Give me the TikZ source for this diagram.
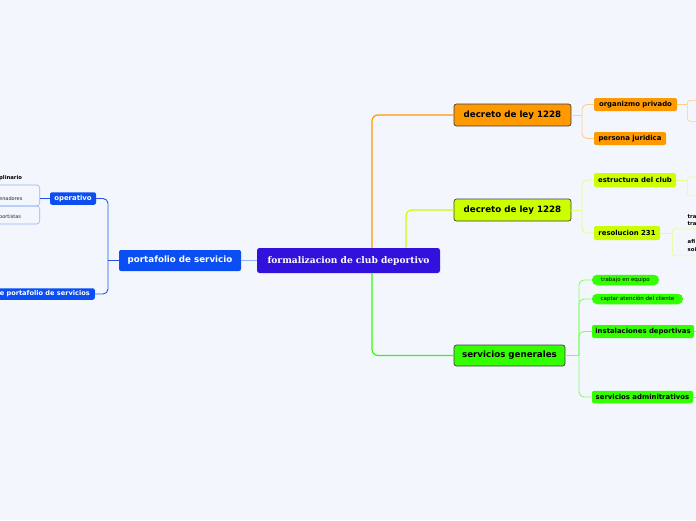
\documentclass[tikz,border=0pt]{standalone}
\usepackage{fontspec}
\setmainfont{DejaVu Sans}
\newfontfamily\serifb{DejaVu Serif}
\definecolor{bg}{RGB}{243,246,253}
\definecolor{cent}{RGB}{51,17,221}
\definecolor{bluebox}{RGB}{11,78,242}
\definecolor{blueline}{RGB}{34,85,238}
\definecolor{bluelight}{RGB}{150,180,245}
\definecolor{orangebox}{RGB}{255,153,0}
\definecolor{orangelight}{RGB}{255,204,140}
\definecolor{limebox}{RGB}{204,255,0}
\definecolor{limelight}{RGB}{225,255,130}
\definecolor{greenbox}{RGB}{51,255,0}
\definecolor{greenlight}{RGB}{130,255,100}
\begin{document}
\begin{tikzpicture}[x=1pt,y=-1pt,
  mainbox/.style={rectangle, rounded corners=2.5pt, inner sep=0pt, draw=black!75, line width=0.7pt,
    font=\bfseries\fontsize{8.7}{10}\selectfont, text=black},
  childbox/.style={rectangle, rounded corners=2pt, inner sep=0pt,
    font=\bfseries\fontsize{6.9}{8}\selectfont, text=black},
  pillbox/.style={rectangle, rounded corners=5pt, inner sep=0pt, fill=greenbox,
    font=\fontsize{5.5}{6}\selectfont, text=black},
  bluenode/.style={rectangle, rounded corners=2pt, inner sep=0pt, fill=bluebox, text=white},
  obox/.style={rectangle, rounded corners=3pt, inner sep=0pt, draw, line width=0.6pt},
  tiny/.style={inner sep=0pt, font=\fontsize{5}{6}\selectfont, text=black!85},
  conn/.style={line width=1.2pt, rounded corners=6pt},
  subconn/.style={line width=0.9pt, rounded corners=5pt}
]
\useasboundingbox[fill=bg] (0,0) rectangle (696,520);

% central
\node[rectangle, rounded corners=2.5pt, inner sep=0pt, fill=cent, text=white,
  font=\serifb\bfseries\fontsize{9.1}{10}\selectfont, minimum width=183, minimum height=25]
  (c) at (348.5,260.5) {formalizacion de club deportivo};

% left branch
\node[bluenode, font=\bfseries\fontsize{8.7}{10}\selectfont, minimum width=122, minimum height=21]
  (port) at (180,260.5) {portafolio de servicio};
\node[bluenode, font=\bfseries\fontsize{6.9}{8}\selectfont, minimum width=46, minimum height=12.5]
  (op) at (73,198.5) {operativo};
\node[bluenode, font=\bfseries\fontsize{6.6}{8}\selectfont, minimum height=11.5, inner xsep=5pt, anchor=east]
  (mod) at (95,294) {e portafolio de servicios};

\draw[line width=1.2pt, bluelight] (c.west) -- (port.east);
\coordinate (lj) at (108,260.5);
\draw[conn, blueline, line width=0.9pt] (port.west) -- (lj);
\draw[subconn, blueline] (op.east) -| (lj) |- (mod.east);

\node[obox, draw=bluelight, minimum width=60, minimum height=21, anchor=east] (ol1) at (40,195.5) {};
\node[obox, draw=bluelight, minimum width=60, minimum height=18, anchor=east] (ol2) at (40,215) {};
\draw[line width=0.9pt, blueline] (op.west) -- (op.west -| ol1.east);
\node[tiny, anchor=west, font=\bfseries\fontsize{5.3}{6}\selectfont, text=black] (t1) at (-1,178) {plinario};
\node[tiny, anchor=west] (t2) at (-1,198.5) {enadores};
\node[tiny, anchor=west] (t3) at (-1,217) {portistas};

% right main nodes
\node[mainbox, fill=orangebox, minimum width=117, minimum height=22] (do) at (512.5,115) {decreto de ley 1228};
\node[mainbox, fill=limebox, minimum width=117, minimum height=22] (dl) at (512.5,210) {decreto de ley 1228};
\node[mainbox, fill=greenbox, minimum width=111, minimum height=21] (sg) at (509.5,355.5) {servicios generales};

\draw[conn, orangebox] (c.north -| 372,0) |- (do.west);
\draw[conn, limebox] (c.north -| 406,0) |- (dl.west);
\draw[conn, greenbox] (c.south -| 372,0) |- (sg.west);

% orange children
\node[childbox, fill=orangebox, minimum width=83, minimum height=13] (org) at (635.5,104.5) {organizmo privado};
\node[childbox, fill=orangebox, minimum width=72, minimum height=13] (pers) at (630,138.5) {persona juridica};
\coordinate (oj) at (582,115);
\draw[subconn, orangelight] (do.east) -- (oj);
\draw[subconn, orangelight] (org.west) -| (oj) |- (pers.west);
\node[obox, draw=orangelight, minimum width=40, minimum height=21, anchor=north west] (o1) at (687,100) {};
\draw[line width=0.9pt, orangelight] (org.east) -- (org.east -| o1.west);

% lime children
\node[childbox, fill=limebox, minimum width=82, minimum height=14] (est) at (635,180) {estructura del club};
\node[childbox, fill=limebox, minimum width=66, minimum height=14] (res) at (627,233) {resolucion 231};
\coordinate (lj2) at (582,210);
\draw[subconn, limelight] (dl.east) -- (lj2);
\draw[subconn, limelight] (est.west) -| (lj2) |- (res.west);
\node[obox, draw=limelight, minimum width=40, minimum height=19, anchor=north west] (o2) at (687,176.5) {};
\draw[line width=0.9pt, limelight] (est.east) -- (est.east -| o2.west);
\node[obox, draw=limelight, minimum width=50, minimum height=27, anchor=north west] (o3) at (672,228.5) {};
\draw[line width=0.9pt, limelight] (res.east) -- (res.east -| o3.west);
\node[tiny, anchor=west, font=\bfseries\fontsize{5.3}{6}\selectfont, text=black] (r1) at (687.5,216.5) {tra};
\node[tiny, anchor=west, font=\bfseries\fontsize{5.3}{6}\selectfont, text=black] (r2) at (687.5,224) {tra};
\node[tiny, anchor=west, font=\bfseries\fontsize{5.3}{6}\selectfont, text=black] (r3) at (687.5,242) {afi};
\node[tiny, anchor=west, font=\bfseries\fontsize{5.3}{6}\selectfont, text=black] (r4) at (687.5,249.5) {soi};

% green children
\node[pillbox, minimum width=67, minimum height=10.5] (tre) at (625.5,280) {trabajo en equipo};
\node[pillbox, minimum width=91, minimum height=10.5] (cap) at (637.5,299) {captar atención del cliente};
\node[childbox, fill=greenbox, minimum width=102, minimum height=13] (ins) at (643,331.5) {instalaciones deportivas};
\node[childbox, fill=greenbox, minimum width=101, minimum height=12.5] (adm) at (642.5,397) {servicios adminitrativos};
\coordinate (gj) at (579,355.5);
\draw[subconn, greenlight] (sg.east) -- (gj);
\draw[subconn, greenlight] (tre.west) -| (gj) |- (adm.west);
\draw[subconn, greenlight] (cap.west) -| (gj);
\draw[subconn, greenlight] (ins.west) -| (gj);
\coordinate (e1) at (700,331.5);
\coordinate (e2) at (700,397);
\draw[line width=0.9pt, greenlight] (ins.east) -- (e1);
\draw[line width=0.9pt, greenlight] (adm.east) -- (e2);
\end{tikzpicture}
\end{document}
